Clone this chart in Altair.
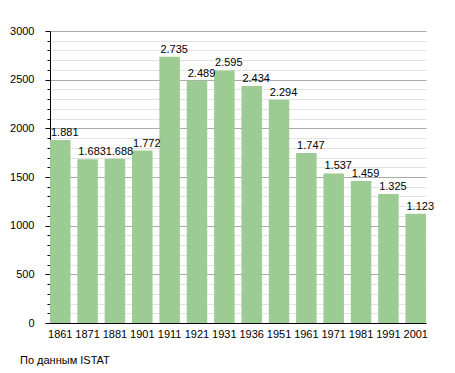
import altair as alt
import pandas as pd

years = ["1861", "1871", "1881", "1901", "1911", "1921", "1931", "1936",
         "1951", "1961", "1971", "1981", "1991", "2001"]
population = [1881, 1683, 1688, 1772, 2735, 2489, 2595, 2434,
              2294, 1747, 1537, 1459, 1325, 1123]

df = pd.DataFrame({"year": years, "pop": population})
df["label"] = [f"{v:,}".replace(",", ".") for v in population]

FONT = "Liberation Sans"

x_axis = alt.Axis(labelAngle=0, ticks=False, domainColor="black",
                  labelColor="black", labelFontSize=11, labelFont=FONT,
                  labelPadding=5, grid=False)
x_scale = alt.Scale(paddingInner=0.25, paddingOuter=0)
y_axis = alt.Axis(values=list(range(0, 3001, 100)),
                  labelExpr="datum.value % 500 === 0 ? datum.label : ''",
                  labelOverlap=False,
                  format="d",
                  gridColor={"condition": {"test": "datum.value % 500 === 0", "value": "#aaaaaa"}, "value": "#e2e2e2"},
                  tickSize={"condition": {"test": "datum.value % 500 === 0", "value": 5}, "value": 3},
                  tickColor="black", domainColor="black",
                  labelColor="black", labelFontSize=11, labelFont=FONT,
                  labelPadding=11)
y_scale = alt.Scale(domain=[0, 3000], nice=False)

bars = alt.Chart(df).mark_bar(color="#9ccc94").encode(
    x=alt.X("year:N", sort=None, title=None, scale=x_scale, axis=x_axis),
    y=alt.Y("pop:Q", title=None, scale=y_scale, axis=y_axis),
)

text = alt.Chart(df).mark_text(align="left", baseline="alphabetic", dx=1, dy=-4,
                               fontSize=11, font=FONT, color="black").encode(
    x=alt.X("year:N", sort=None, title=None, bandPosition=0, scale=x_scale, axis=x_axis),
    y=alt.Y("pop:Q", title=None, scale=y_scale, axis=y_axis),
    text="label:N",
)

chart = (bars + text).properties(
    width=376, height=292,
    autosize=alt.AutoSizeParams(type="none"),
    padding={"left": 42, "top": 23, "right": 20, "bottom": 50},
    title=alt.TitleParams("По данным  ISTAT", orient="bottom", anchor="start",
                          frame="group", dx=-30, offset=16, fontSize=11,
                          font=FONT, fontWeight="normal", color="black"),
).configure_view(stroke=None).configure_axis(gridWidth=1)

chart.save("out.html", embed_options={"renderer": "svg", "actions": False})
